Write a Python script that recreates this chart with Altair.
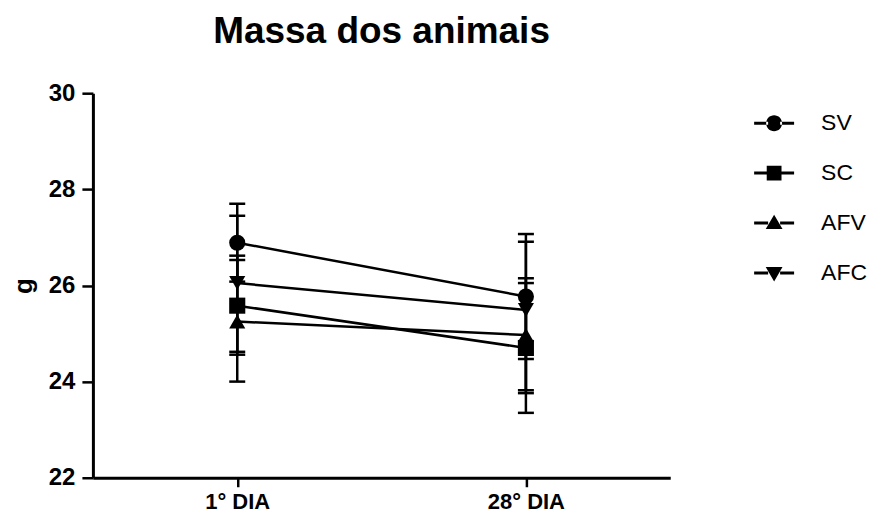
import altair as alt
import pandas as pd

groups = ["SV", "SC", "AFV", "AFC"]
days = ["1° DIA", "28° DIA"]
mean_d1 = [26.89, 25.58, 25.25, 26.05]
low_d1 = [26.08, 24.56, 24.00, 24.62]
high_d1 = [27.70, 26.62, 26.53, 27.45]
mean_d28 = [25.77, 24.70, 24.97, 25.49]
low_d28 = [24.47, 23.35, 23.76, 23.82]
high_d28 = [27.07, 26.05, 26.15, 26.91]
y_ticks = [22, 24, 26, 28, 30]

rows = []
for i, g in enumerate(groups):
    rows.append({"grupo": g, "dia": days[0], "m": mean_d1[i], "lo": low_d1[i], "hi": high_d1[i]})
    rows.append({"grupo": g, "dia": days[1], "m": mean_d28[i], "lo": low_d28[i], "hi": high_d28[i]})
df = pd.DataFrame(rows)

FONT = "Liberation Sans"
bar = "M-1,-0.075H-0.3V0.075H-1Z M0.3,-0.075H1V0.075H0.3Z "
legend_paths = [
    bar + "M-0.4,0A0.4,0.4 0 1,0 0.4,0A0.4,0.4 0 1,0 -0.4,0Z",
    bar + "M-0.37,-0.37H0.37V0.37H-0.37Z",
    bar + "M0,-0.42L0.42,0.3H-0.42Z",
    bar + "M0,0.42L0.42,-0.3H-0.42Z",
]

x_enc = alt.X("dia:N", sort=days, scale=alt.Scale(type="point", padding=0.5),
              axis=alt.Axis(title=None, labelAngle=0, labelFont=FONT, labelFontSize=22,
                            labelFontWeight="bold", labelColor="black", tickSize=9,
                            tickWidth=2.5, tickColor="black", domainColor="black",
                            domainWidth=3, labelPadding=5))
y_scale = alt.Scale(domain=[22, 30], nice=False, zero=False)
y_axis = alt.Axis(title="g", values=y_ticks, grid=False, labelFont=FONT, labelFontSize=24,
                  labelFontWeight="bold", labelColor="black", tickSize=11, tickWidth=2.5,
                  tickColor="black", domainColor="black", domainWidth=3, labelPadding=7,
                  titleFont=FONT, titleFontSize=26, titleFontWeight="bold",
                  titleColor="black", titlePadding=12)

base = alt.Chart(df)

lines = base.mark_line(color="black", strokeWidth=2.5).encode(
    x=x_enc, y=alt.Y("m:Q", scale=y_scale, axis=y_axis), detail="grupo:N")

rules = base.mark_rule(color="black", strokeWidth=2.5).encode(
    x=x_enc, y=alt.Y("lo:Q", scale=y_scale), y2="hi:Q")

caps_lo = base.mark_tick(color="black", size=16, thickness=2.5, opacity=1).encode(
    x=x_enc, y=alt.Y("lo:Q", scale=y_scale))
caps_hi = base.mark_tick(color="black", size=16, thickness=2.5, opacity=1).encode(
    x=x_enc, y=alt.Y("hi:Q", scale=y_scale))

points = base.mark_point(filled=True, color="black", size=260, opacity=1).encode(
    x=x_enc, y=alt.Y("m:Q", scale=y_scale),
    shape=alt.Shape("grupo:N", sort=groups,
                    scale=alt.Scale(domain=groups,
                                    range=["circle", "square", "triangle-up", "triangle-down"]),
                    legend=None))

legend_layer = base.mark_point(filled=True, color="black", opacity=0).encode(
    x=x_enc, y=alt.Y("m:Q", scale=y_scale),
    shape=alt.Shape("grupo:N", sort=groups,
                    scale=alt.Scale(domain=groups, range=legend_paths),
                    legend=alt.Legend(title=None, orient="none", legendX=662, legendY=10,
                                      symbolSize=1600, symbolOpacity=1,
                                      symbolFillColor="black", symbolStrokeWidth=0,
                                      labelFont=FONT, labelFontSize=23, labelColor="black",
                                      labelOffset=27, rowPadding=18, padding=0)))

chart = alt.layer(lines, rules, caps_lo, caps_hi, points, legend_layer).resolve_scale(
    shape="independent"
).properties(
    width=578, height=385,
    title=alt.TitleParams("Massa dos animais", font=FONT, fontSize=37, fontWeight="bold",
                          color="black", anchor="middle", offset=30),
    autosize=alt.AutoSizeParams(type="none"),
    padding={"left": 85, "top": 85, "right": 207, "bottom": 37},
).configure_view(stroke=None)

chart.save("out.html", embed_options={"renderer": "svg", "actions": False})
